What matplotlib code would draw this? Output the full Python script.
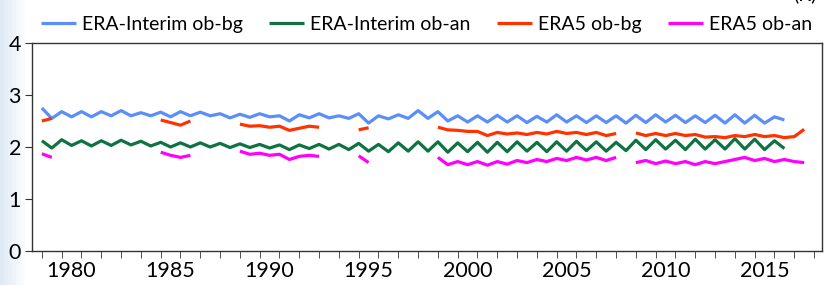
"""
Ecarts ob-bg / ob-an ERA-Interim et ERA5 (1979-2017)
"""
import numpy as np
import matplotlib
matplotlib.use("Agg")
import matplotlib.pyplot as plt

plt.rcParams['font.family'] = ['Lato', 'DejaVu Sans']

# Grille semestrielle commune (NaN = pas de donnees)
annees = np.arange(1979.0, 2018.0, 0.5)
nan = np.nan

# ERA-Interim ob-bg, 1979.0 -> 2016.5
eri_bg = [2.75, 2.55, 2.68, 2.58, 2.68, 2.58, 2.68, 2.60, 2.70, 2.60,
          2.66, 2.60, 2.67, 2.58, 2.68, 2.60, 2.67, 2.60, 2.64, 2.56,
          2.63, 2.57, 2.64, 2.58, 2.60, 2.50, 2.62, 2.56, 2.64, 2.56,
          2.60, 2.55, 2.64, 2.46, 2.60, 2.54, 2.62, 2.55, 2.70, 2.55,
          2.68, 2.50, 2.60, 2.48, 2.60, 2.48, 2.61, 2.48, 2.60, 2.47,
          2.59, 2.48, 2.62, 2.48, 2.60, 2.47, 2.60, 2.47, 2.60, 2.46,
          2.61, 2.47, 2.62, 2.48, 2.61, 2.47, 2.60, 2.47, 2.61, 2.46,
          2.62, 2.46, 2.61, 2.46, 2.58, 2.52, nan, nan]

# ERA-Interim ob-an
eri_an = [2.12, 1.98, 2.14, 2.03, 2.12, 2.02, 2.12, 2.03, 2.13, 2.04,
          2.11, 2.02, 2.09, 2.00, 2.08, 2.00, 2.08, 2.00, 2.07, 1.99,
          2.06, 1.99, 2.05, 1.98, 2.04, 1.95, 2.04, 1.97, 2.05, 1.96,
          2.05, 1.95, 2.07, 1.92, 2.05, 1.91, 2.08, 1.92, 2.10, 1.92,
          2.10, 1.90, 2.08, 1.91, 2.09, 1.90, 2.09, 1.91, 2.10, 1.92,
          2.09, 1.91, 2.10, 1.92, 2.11, 1.93, 2.10, 1.92, 2.09, 1.93,
          2.13, 1.95, 2.14, 1.96, 2.13, 1.95, 2.15, 1.96, 2.14, 1.96,
          2.16, 1.96, 2.15, 1.95, 2.12, 1.97, nan, nan]

# ERA5 ob-bg (par flux de production)
era5_bg = [2.50, 2.55, nan, nan, nan, nan, nan, nan, nan, nan,
           nan, nan, 2.52, 2.47, 2.42, 2.50, nan, nan, nan, nan,
           2.44, 2.40, 2.41, 2.38, 2.40, 2.32, 2.36, 2.40, 2.38, nan,
           nan, nan, 2.33, 2.37, nan, nan, nan, nan, nan, nan,
           2.38, 2.33, 2.32, 2.30, 2.30, 2.22, 2.28, 2.25, 2.27, 2.24,
           2.28, 2.25, 2.30, 2.26, 2.28, 2.24, 2.28, 2.22, 2.26, nan,
           2.27, 2.22, 2.26, 2.22, 2.26, 2.22, 2.24, 2.19, 2.20, 2.18,
           2.22, 2.20, 2.24, 2.20, 2.22, 2.18, 2.20, 2.34]

# ERA5 ob-an
era5_an = [1.87, 1.80, nan, nan, nan, nan, nan, nan, nan, nan,
           nan, nan, 1.90, 1.84, 1.80, 1.84, nan, nan, nan, nan,
           1.92, 1.86, 1.88, 1.84, 1.86, 1.76, 1.82, 1.84, 1.82, nan,
           nan, nan, 1.83, 1.70, nan, nan, nan, nan, nan, nan,
           1.80, 1.66, 1.72, 1.66, 1.72, 1.65, 1.72, 1.67, 1.74, 1.70,
           1.76, 1.72, 1.78, 1.74, 1.80, 1.75, 1.80, 1.74, 1.80, nan,
           1.70, 1.74, 1.68, 1.73, 1.68, 1.72, 1.66, 1.72, 1.68, 1.72,
           1.76, 1.80, 1.74, 1.78, 1.72, 1.76, 1.72, 1.70]

series = [("ERA-Interim ob-bg", eri_bg, "#5b8ef8"),
          ("ERA-Interim ob-an", eri_an, "#0e7242"),
          ("ERA5 ob-bg", era5_bg, "#ff3300"),
          ("ERA5 ob-an", era5_an, "#ff00ff")]

fig = plt.figure(figsize=(8.25, 2.85), dpi=100)

# fond degrade a gauche (diapositive)
ax_bg = fig.add_axes([0, 0, 1, 1], zorder=-1)
grad = np.ones((2, 200, 3))
bleu = np.array([0.88, 0.92, 0.97])
for i in range(200):
    f = max(0.0, 1 - i / 6.0)
    grad[:, i, :] = bleu * f + np.ones(3) * (1 - f)
ax_bg.imshow(grad, aspect="auto", extent=[0, 1, 0, 1])
ax_bg.axis("off")

ax = fig.add_axes([32 / 825, 34 / 285, 790 / 825, 208 / 285])
for nom, vals, coul in series:
    ax.plot(annees, vals, color=coul, lw=2.3, label=nom, solid_capstyle="butt")

ax.set_xlim(1978.5, 2018.4)
ax.set_ylim(0, 4)
ax.set_yticks([0, 1, 2, 3, 4])
ax.set_xticks([a + 0.5 for a in range(1980, 2016, 5)],
              [str(a) for a in range(1980, 2016, 5)])
ax.set_xticks(range(1979, 2019), minor=True)
ax.tick_params(axis="x", which="major", length=0, pad=7.5, labelsize=15.5)
ax.tick_params(axis="x", which="minor", length=5, direction="out", color="#333333")
ax.tick_params(axis="y", length=5, direction="out", pad=3, labelsize=15.5, color="#333333")
for sp in ax.spines.values():
    sp.set_color("#333333")
    sp.set_linewidth(1.0)

fig.legend(loc="center", bbox_to_anchor=(0.517, 0.915), ncol=4, frameon=False,
           fontsize=14, handlelength=1.8, handletextpad=0.31, columnspacing=1.34,
           borderaxespad=0)

fig.text(0.99, 0.99, "(K)", ha="right", va="bottom", fontsize=14)

fig.savefig("out.png", dpi=100)
